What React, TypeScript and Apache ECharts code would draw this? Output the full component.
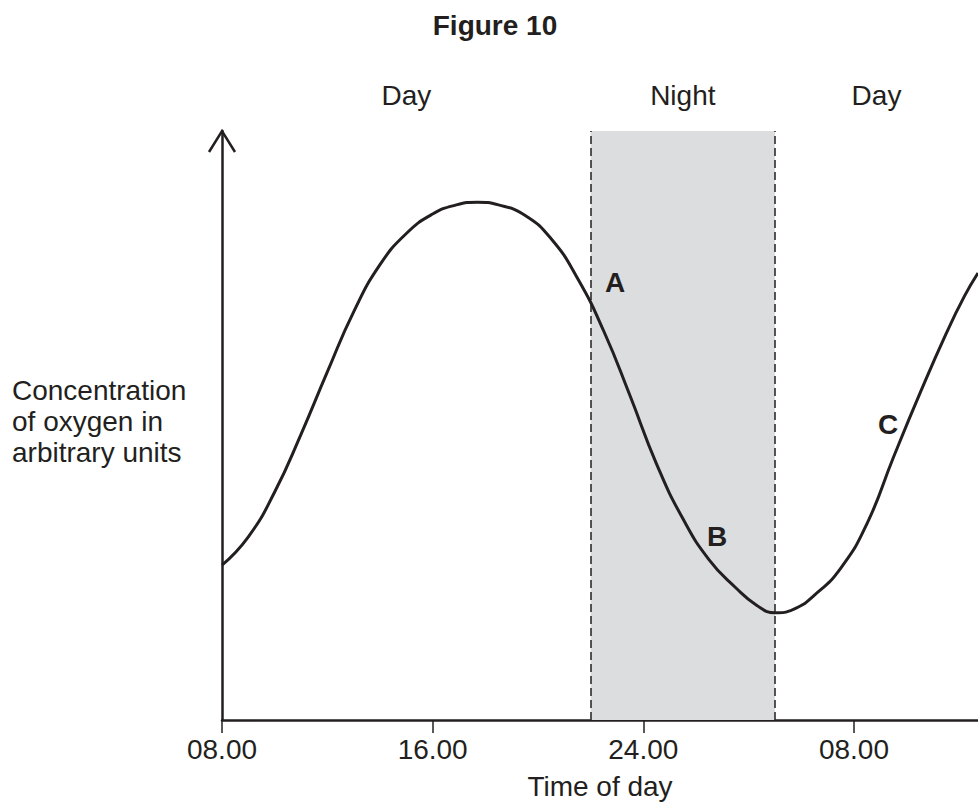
import React, { useEffect, useRef } from 'react';
import * as echarts from 'echarts';

// ---- data ----
const hours = [8, 9, 10, 11, 12, 13, 14, 15, 16, 16.9, 17.7, 18.5, 19.5, 20.5, 21.5, 22.5, 23.5, 24.5, 25.5, 26.5, 27.5, 28.3, 29, 29.7, 30.5, 31.5, 32.5, 33.5, 34.5, 35.5, 36.2, 36.71];
const concentration = [26.3, 31.1, 38.7, 48.5, 59.1, 69.3, 77.3, 82.6, 85.9, 87.45, 87.9, 87.45, 85.7, 81.7, 75.0, 66.0, 55.0, 43.5, 34.2, 27.2, 22.5, 19.5, 18.2, 18.8, 21.2, 25.8, 33.4, 44.6, 55.4, 65.6, 72.0, 75.9];

const tickValues = [8, 16, 24, 32];
const tickLabels = ['08.00', '16.00', '24.00', '08.00'];

const periodNames = ['Day', 'Night', 'Day'];
const periodStarts = [8, 22, 29];
const periodEnds = [22, 29, 36.71];

const pointNames = ['A', 'B', 'C'];
const pointHours = [22.93, 26.8, 33.3];
const pointLevels = [74.2, 31.1, 50.1];

const X_MIN = 8;
const X_MAX = 36.71;
const Y_MIN = 0;
const Y_MAX = 100;

const INK = '#231f20';
const FONT = '"Liberation Sans", Arial, Helvetica, sans-serif';

export default function App() {
  const ref = useRef<HTMLDivElement>(null);

  useEffect(() => {
    if (!ref.current) return;
    const chart = echarts.init(ref.current, null, { renderer: 'svg' });

    const nightIdx = periodNames.indexOf('Night');

    chart.setOption({
      animation: false,
      backgroundColor: '#ffffff',
      grid: { left: 222, right: 0, top: 131, bottom: 86, containLabel: false },
      xAxis: {
        type: 'value',
        min: X_MIN,
        max: X_MAX,
        interval: 8,
        splitLine: { show: false },
        axisLine: { show: true, onZero: false, lineStyle: { color: INK, width: 2.5 } },
        axisTick: { show: true, length: 13, customValues: tickValues, lineStyle: { color: INK, width: 1.5 } },
        axisLabel: {
          show: true,
          customValues: tickValues,
          margin: 15,
          color: INK,
          fontSize: 28,
          fontFamily: FONT,
          formatter: (v: number) => {
            const i = tickValues.indexOf(v);
            return i >= 0 ? tickLabels[i] : '';
          },
        },
        name: 'Time of day',
        nameLocation: 'middle',
        nameGap: 52,
        nameTextStyle: { color: INK, fontSize: 28, fontFamily: FONT },
      },
      yAxis: {
        type: 'value',
        min: Y_MIN,
        max: Y_MAX,
        splitLine: { show: false },
        axisLine: { show: true, lineStyle: { color: INK, width: 2.5 } },
        axisTick: { show: false },
        axisLabel: { show: false },
      },
      series: [
        {
          type: 'line',
          data: hours.map((h, i) => [h, concentration[i]]),
          smooth: 0.5,
          symbol: 'none',
          lineStyle: { color: INK, width: 3 },
          z: 5,
          markArea: {
            silent: true,
            label: {
              show: true,
              position: 'top',
              distance: 22,
              color: INK,
              fontSize: 28,
              fontFamily: FONT,
            },
            data: periodNames.map((name, i) => [
              {
                name,
                xAxis: periodStarts[i],
                itemStyle: { color: i === nightIdx ? '#dcdddf' : 'rgba(0,0,0,0)' },
              },
              { xAxis: periodEnds[i] },
            ]),
          },
          markLine: {
            silent: true,
            symbol: 'none',
            label: { show: false },
            lineStyle: { color: INK, width: 1.5, type: [8, 4] },
            data: [{ xAxis: periodStarts[nightIdx] }, { xAxis: periodEnds[nightIdx] }],
          },
        },
        {
          type: 'scatter',
          data: pointNames.map((n, i) => ({ name: n, value: [pointHours[i], pointLevels[i]] })),
          symbolSize: 0,
          itemStyle: { color: INK, opacity: 1 },
          label: {
            show: true,
            position: 'inside',
            formatter: (p: any) => p.name,
            color: INK,
            opacity: 1,
            textBorderWidth: 0,
            fontSize: 28,
            fontWeight: 'bold',
            fontFamily: FONT,
          },
          z: 6,
        },
      ],
    });

    const tip = chart.convertToPixel({ gridIndex: 0 }, [X_MIN, Y_MAX]) as number[];

    chart.setOption({
      graphic: [
        {
          type: 'text',
          x: 495,
          y: 25,
          style: {
            text: 'Figure 10',
            fill: INK,
            font: `bold 28px ${FONT}`,
            textAlign: 'center',
            textVerticalAlign: 'middle',
          },
        },
        {
          type: 'text',
          x: 12,
          y: 375,
          style: {
            text: 'Concentration\nof oxygen in\narbitrary units',
            fill: INK,
            font: `28px ${FONT}`,
            lineHeight: 31,
            textAlign: 'left',
            textVerticalAlign: 'top',
          },
        },
        {
          type: 'polyline',
          shape: {
            points: [
              [tip[0] - 13, tip[1] + 21],
              [tip[0], tip[1]],
              [tip[0] + 13, tip[1] + 21],
            ],
          },
          style: { stroke: INK, lineWidth: 2.5, fill: 'none' },
          z: 10,
        },
      ],
    });

    return () => chart.dispose();
  }, []);

  return (
    <div
      ref={ref}
      style={{ position: 'fixed', left: 0, top: 0, width: 978, height: 806, background: '#ffffff' }}
    />
  );
}
